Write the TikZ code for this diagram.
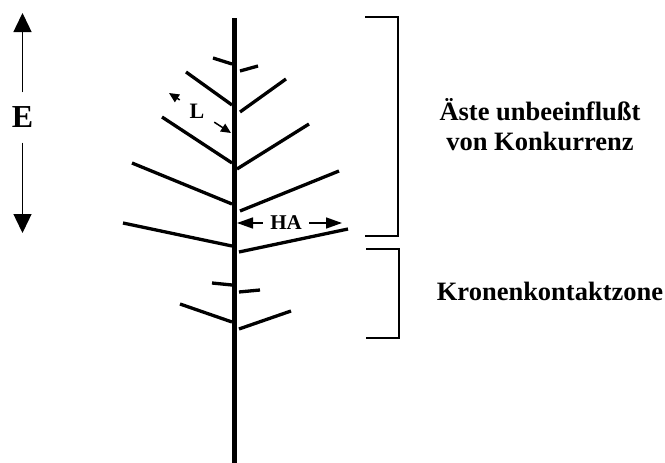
\documentclass[tikz,border=0pt]{standalone}
\usepackage{fontspec}
\setmainfont{Liberation Serif}
\usetikzlibrary{arrows.meta,positioning}

\begin{document}
\begin{tikzpicture}[x=1pt, y=-1pt,
	every node/.style={font=\fontsize{26.5}{30}\selectfont\bfseries},
	branch/.style={line width=3.3pt},
	bracket/.style={line width=1.3pt},
	dimarrow/.style={line width=1.5pt, -{Triangle[length=10pt, width=9pt]}}]
	\useasboundingbox (0,0) rectangle (665,463);
	% trunk and branches
	\draw[line width=4.8pt] (234.5,18) -- (234.5,463);
	\foreach \xa/\ya/\xb/\yb in {213/58/232/64, 240/71/258/66, 186/72/232/105, 240/112/286/79,
		162/117/232/163, 237/169/309/124, 132/163/232/204, 240/211/339/171,
		123/223/232/246, 239/252/348/229, 212/283/232/285, 239/292/260/290,
		180/304/232/322, 239/329/291/311} {
		\draw[branch] (\xa,\ya) -- (\xb,\yb);
	}
	% height E
	\node[font=\fontsize{32}{34}\selectfont\bfseries, inner xsep=2pt, inner ysep=14.5pt] (E) at (22.5,117.5) {E};
	\coordinate (Etop) at (22.5,13);
	\coordinate (Ebot) at (22.5,233);
	\draw[line width=1.4pt, -{Triangle[length=19pt, width=18pt]}] (E) -- (Etop);
	\draw[line width=1.4pt, -{Triangle[length=19pt, width=18pt]}] (E) -- (Ebot);
	% branch length L
	\node[font=\fontsize{22}{26}\selectfont\bfseries, inner sep=9.7pt] (L) at (197,111) {L};
	\coordinate (Ltip) at (169,93);
	\coordinate (Lend) at (231,133);
	\draw[dimarrow] (L) -- (Ltip);
	\draw[dimarrow] (L) -- (Lend);
	% horizontal extent HA
	\node[font=\fontsize{21}{24}\selectfont\bfseries, inner xsep=7.2pt] (HA) at (286,223) {HA};
	\coordinate (HAl) at (237,223);
	\coordinate (HAr) at (342,223);
	\draw[line width=1.5pt, -{Triangle[length=16pt, width=11pt]}] (HA) -- (HAl);
	\draw[line width=1.5pt, -{Triangle[length=16pt, width=11pt]}] (HA) -- (HAr);
	% zones
	\draw[bracket] (365,17) -| (398,236) -- (365,236);
	\draw[bracket] (366,249) -| (399,338) -- (366,338);
	\node[anchor=base] (aste) at (540,120) {Äste unbeeinflußt};
	\node[anchor=base] (konk) at (540,150) {von Konkurrenz};
	\node[anchor=base] (krone) at (550,300) {Kronenkontaktzone};
\end{tikzpicture}
\end{document}
